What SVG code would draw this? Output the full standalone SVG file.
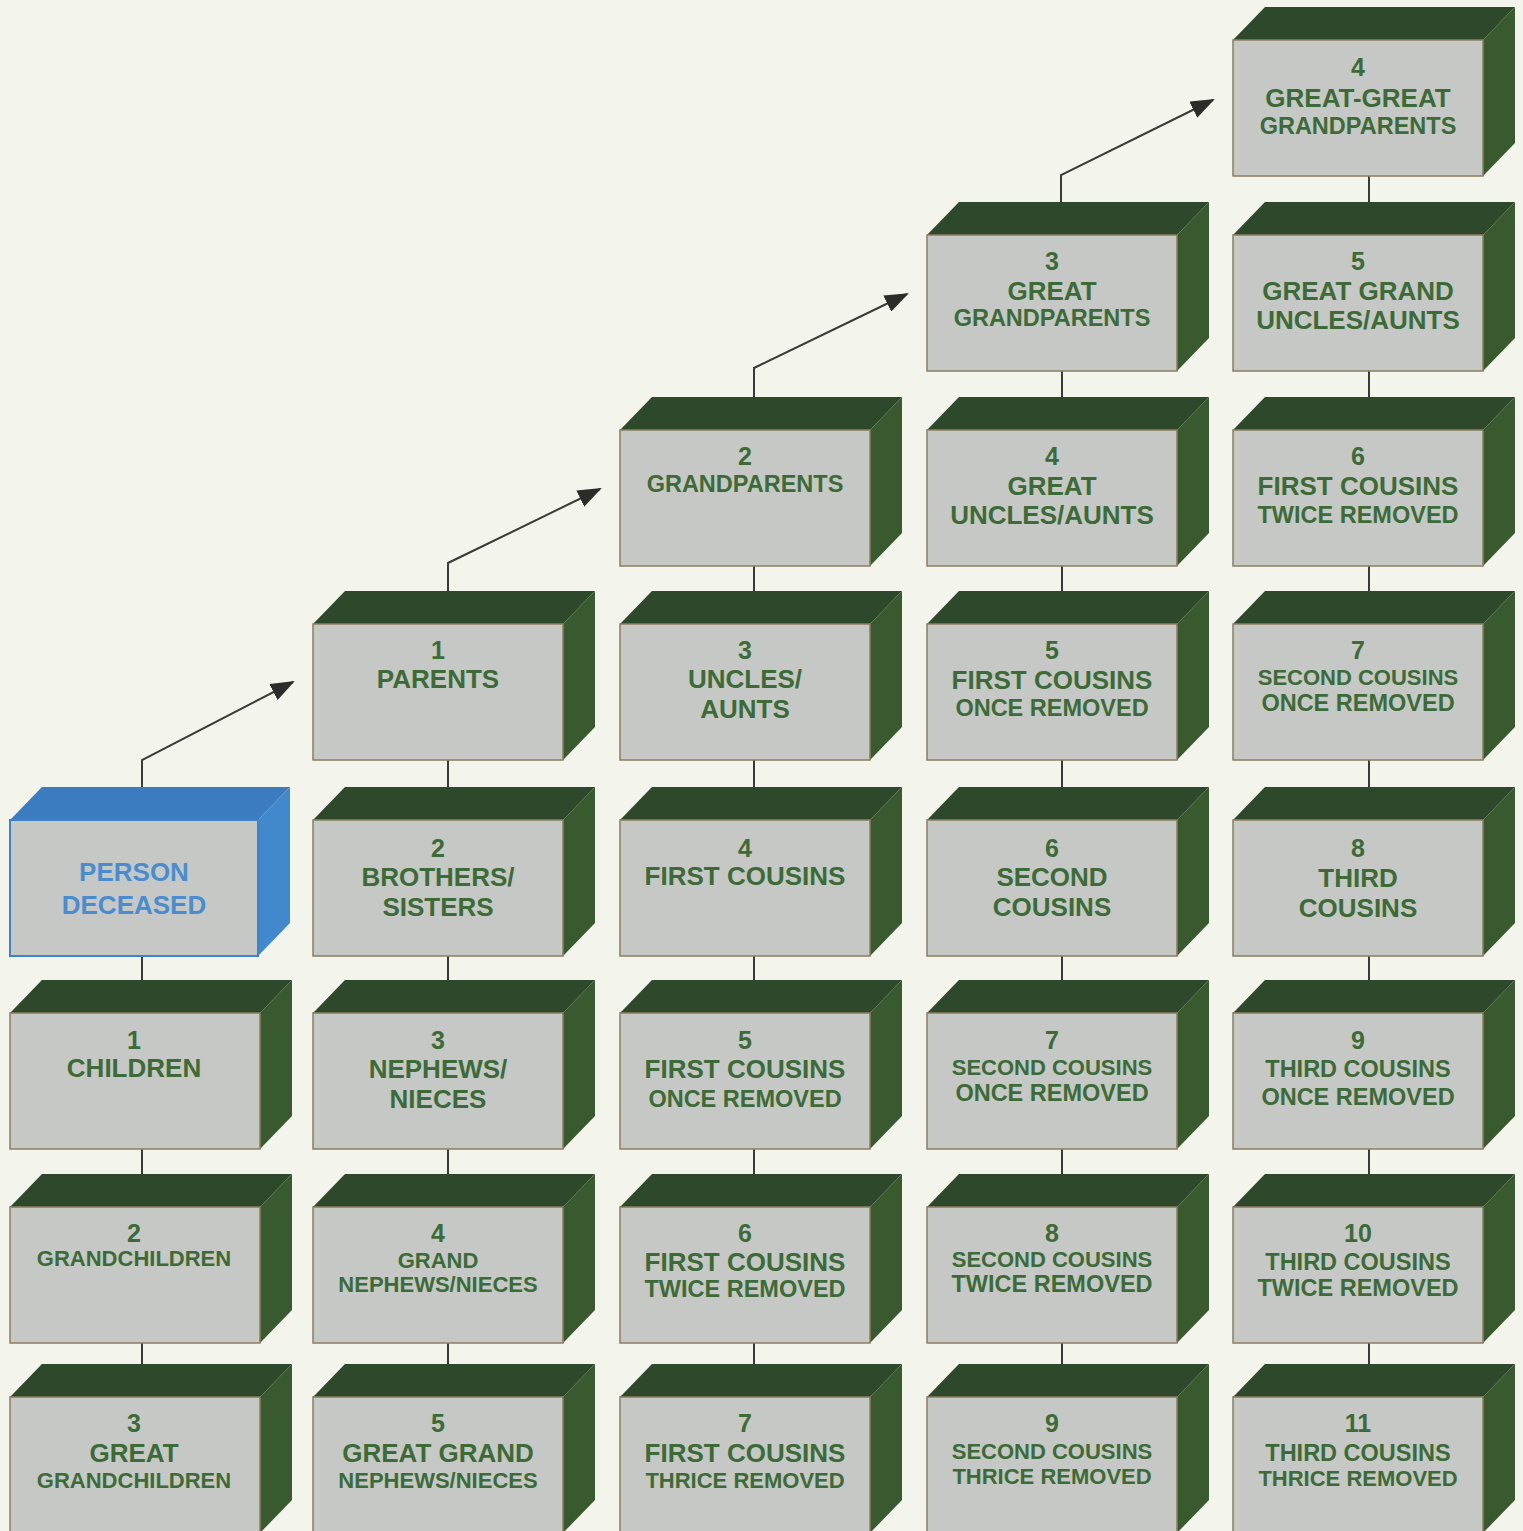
<svg xmlns="http://www.w3.org/2000/svg" width="1523" height="1531" viewBox="0 0 1523 1531">
<style>
.bg{fill:#f3f5ed}
.front{fill:#c5c8c5;stroke:#8c7d5f;stroke-width:1.5}
.top{fill:#2e482b}
.side{fill:#39592f}
.btop{fill:#3b7cc0}
.bside{fill:#4288cc}
.bfront{fill:#c5c8c5;stroke:#3f82c6;stroke-width:2}
text{font-family:"Liberation Sans",Arial,sans-serif;font-weight:bold;fill:#3d6b38;text-anchor:middle}
.n{font-size:25px}
.t1{font-size:26px}
.t2{font-size:23.5px}
.t3{font-size:22px}
.blue{fill:#4a8dcf;font-size:26px}
.conn{fill:none;stroke:#3a3a38;stroke-width:2}
</style>
<defs>
<marker id="arr" markerUnits="userSpaceOnUse" markerWidth="24" markerHeight="18" refX="22" refY="9" orient="auto">
<path d="M0,0 L24,9 L0,18 z" fill="#2c2c2a"/>
</marker>
<g id="box">
<polygon class="top" points="0,0 32,-33 282,-33 250,0"/>
<polygon class="side" points="250,0 282,-33 282,103 250,136"/>
<rect class="front" x="0" y="0" width="250" height="136"/>
</g>
</defs>
<rect class="bg" x="0" y="0" width="1523" height="1531"/>

<g id="connectors">
<polyline class="conn" points="142,787 142,760 293,682" marker-end="url(#arr)"/>
<polyline class="conn" points="448,591 448,563 600,489" marker-end="url(#arr)"/>
<polyline class="conn" points="754,397 754,368 907,294" marker-end="url(#arr)"/>
<polyline class="conn" points="1061,202 1061,175 1213,100" marker-end="url(#arr)"/>
<line class="conn" x1="142" y1="956" x2="142" y2="980"/>
<line class="conn" x1="142" y1="1149" x2="142" y2="1174"/>
<line class="conn" x1="142" y1="1343" x2="142" y2="1364"/>
<line class="conn" x1="448" y1="760" x2="448" y2="787"/>
<line class="conn" x1="448" y1="956" x2="448" y2="980"/>
<line class="conn" x1="448" y1="1149" x2="448" y2="1174"/>
<line class="conn" x1="448" y1="1343" x2="448" y2="1364"/>
<line class="conn" x1="754" y1="566" x2="754" y2="591"/>
<line class="conn" x1="754" y1="760" x2="754" y2="787"/>
<line class="conn" x1="754" y1="956" x2="754" y2="980"/>
<line class="conn" x1="754" y1="1149" x2="754" y2="1174"/>
<line class="conn" x1="754" y1="1343" x2="754" y2="1364"/>
<line class="conn" x1="1062" y1="371" x2="1062" y2="397"/>
<line class="conn" x1="1062" y1="566" x2="1062" y2="591"/>
<line class="conn" x1="1062" y1="760" x2="1062" y2="787"/>
<line class="conn" x1="1062" y1="956" x2="1062" y2="980"/>
<line class="conn" x1="1062" y1="1149" x2="1062" y2="1174"/>
<line class="conn" x1="1062" y1="1343" x2="1062" y2="1364"/>
<line class="conn" x1="1369" y1="176" x2="1369" y2="202"/>
<line class="conn" x1="1369" y1="371" x2="1369" y2="397"/>
<line class="conn" x1="1369" y1="566" x2="1369" y2="591"/>
<line class="conn" x1="1369" y1="760" x2="1369" y2="787"/>
<line class="conn" x1="1369" y1="956" x2="1369" y2="980"/>
<line class="conn" x1="1369" y1="1149" x2="1369" y2="1174"/>
<line class="conn" x1="1369" y1="1343" x2="1369" y2="1364"/>
</g>

<g id="c4r0"><use href="#box" x="1233" y="40"/>
<text class="n" x="1358" y="76">4</text><text class="t1" x="1358" y="107">GREAT-GREAT</text><text class="t2" x="1358" y="134">GRANDPARENTS</text></g>
<g id="c4r1"><use href="#box" x="1233" y="235"/>
<text class="n" x="1358" y="270">5</text><text class="t1" x="1358" y="300">GREAT GRAND</text><text class="t1" x="1358" y="329">UNCLES/AUNTS</text></g>
<g id="c4r2"><use href="#box" x="1233" y="430"/>
<text class="n" x="1358" y="465">6</text><text class="t1" x="1358" y="495">FIRST COUSINS</text><text class="t2" x="1358" y="523">TWICE REMOVED</text></g>
<g id="c4r3"><use href="#box" x="1233" y="624"/>
<text class="n" x="1358" y="659">7</text><text class="t3" x="1358" y="685">SECOND COUSINS</text><text class="t2" x="1358" y="711">ONCE REMOVED</text></g>
<g id="c4r4"><use href="#box" x="1233" y="820"/>
<text class="n" x="1358" y="857">8</text><text class="t1" x="1358" y="887">THIRD</text><text class="t1" x="1358" y="917">COUSINS</text></g>
<g id="c4r5"><use href="#box" x="1233" y="1013"/>
<text class="n" x="1358" y="1049">9</text><text class="t2" x="1358" y="1077">THIRD COUSINS</text><text class="t2" x="1358" y="1105">ONCE REMOVED</text></g>
<g id="c4r6"><use href="#box" x="1233" y="1207"/>
<text class="n" x="1358" y="1242">10</text><text class="t2" x="1358" y="1270">THIRD COUSINS</text><text class="t2" x="1358" y="1296">TWICE REMOVED</text></g>
<g id="c4r7"><use href="#box" x="1233" y="1397"/>
<text class="n" x="1358" y="1432">11</text><text class="t2" x="1358" y="1461">THIRD COUSINS</text><text class="t3" x="1358" y="1486">THRICE REMOVED</text></g>

<g id="c3r1"><use href="#box" x="927" y="235"/>
<text class="n" x="1052" y="270">3</text><text class="t1" x="1052" y="300">GREAT</text><text class="t2" x="1052" y="326">GRANDPARENTS</text></g>
<g id="c3r2"><use href="#box" x="927" y="430"/>
<text class="n" x="1052" y="465">4</text><text class="t1" x="1052" y="495">GREAT</text><text class="t1" x="1052" y="524">UNCLES/AUNTS</text></g>
<g id="c3r3"><use href="#box" x="927" y="624"/>
<text class="n" x="1052" y="659">5</text><text class="t1" x="1052" y="689">FIRST COUSINS</text><text class="t2" x="1052" y="716">ONCE REMOVED</text></g>
<g id="c3r4"><use href="#box" x="927" y="820"/>
<text class="n" x="1052" y="857">6</text><text class="t1" x="1052" y="886">SECOND</text><text class="t1" x="1052" y="916">COUSINS</text></g>
<g id="c3r5"><use href="#box" x="927" y="1013"/>
<text class="n" x="1052" y="1049">7</text><text class="t3" x="1052" y="1075">SECOND COUSINS</text><text class="t2" x="1052" y="1101">ONCE REMOVED</text></g>
<g id="c3r6"><use href="#box" x="927" y="1207"/>
<text class="n" x="1052" y="1242">8</text><text class="t3" x="1052" y="1267">SECOND COUSINS</text><text class="t2" x="1052" y="1292">TWICE REMOVED</text></g>
<g id="c3r7"><use href="#box" x="927" y="1397"/>
<text class="n" x="1052" y="1432">9</text><text class="t3" x="1052" y="1459">SECOND COUSINS</text><text class="t3" x="1052" y="1484">THRICE REMOVED</text></g>

<g id="c2r2"><use href="#box" x="620" y="430"/>
<text class="n" x="745" y="465">2</text><text class="t2" x="745" y="492">GRANDPARENTS</text></g>
<g id="c2r3"><use href="#box" x="620" y="624"/>
<text class="n" x="745" y="659">3</text><text class="t1" x="745" y="688">UNCLES/</text><text class="t1" x="745" y="718">AUNTS</text></g>
<g id="c2r4"><use href="#box" x="620" y="820"/>
<text class="n" x="745" y="857">4</text><text class="t1" x="745" y="885">FIRST COUSINS</text></g>
<g id="c2r5"><use href="#box" x="620" y="1013"/>
<text class="n" x="745" y="1049">5</text><text class="t1" x="745" y="1078">FIRST COUSINS</text><text class="t2" x="745" y="1107">ONCE REMOVED</text></g>
<g id="c2r6"><use href="#box" x="620" y="1207"/>
<text class="n" x="745" y="1242">6</text><text class="t1" x="745" y="1271">FIRST COUSINS</text><text class="t2" x="745" y="1297">TWICE REMOVED</text></g>
<g id="c2r7"><use href="#box" x="620" y="1397"/>
<text class="n" x="745" y="1432">7</text><text class="t1" x="745" y="1462">FIRST COUSINS</text><text class="t3" x="745" y="1488">THRICE REMOVED</text></g>

<g id="c1r3"><use href="#box" x="313" y="624"/>
<text class="n" x="438" y="659">1</text><text class="t1" x="438" y="688">PARENTS</text></g>
<g id="c1r4"><use href="#box" x="313" y="820"/>
<text class="n" x="438" y="857">2</text><text class="t1" x="438" y="886">BROTHERS/</text><text class="t1" x="438" y="916">SISTERS</text></g>
<g id="c1r5"><use href="#box" x="313" y="1013"/>
<text class="n" x="438" y="1049">3</text><text class="t1" x="438" y="1078">NEPHEWS/</text><text class="t1" x="438" y="1108">NIECES</text></g>
<g id="c1r6"><use href="#box" x="313" y="1207"/>
<text class="n" x="438" y="1242">4</text><text class="t3" x="438" y="1268">GRAND</text><text class="t3" x="438" y="1292">NEPHEWS/NIECES</text></g>
<g id="c1r7"><use href="#box" x="313" y="1397"/>
<text class="n" x="438" y="1432">5</text><text class="t1" x="438" y="1462">GREAT GRAND</text><text class="t3" x="438" y="1488">NEPHEWS/NIECES</text></g>

<g id="person-deceased">
<polygon class="btop" points="10,820 42,787 290,787 258,820"/>
<polygon class="bside" points="258,820 290,787 290,923 258,956"/>
<rect class="bfront" x="10" y="820" width="248" height="136"/>
<text class="blue" x="134" y="881">PERSON</text><text class="blue" x="134" y="914">DECEASED</text></g>
<g id="c0r5"><use href="#box" x="10" y="1013"/>
<text class="n" x="134" y="1049">1</text><text class="t1" x="134" y="1077">CHILDREN</text></g>
<g id="c0r6"><use href="#box" x="10" y="1207"/>
<text class="n" x="134" y="1242">2</text><text class="t3" x="134" y="1266">GRANDCHILDREN</text></g>
<g id="c0r7"><use href="#box" x="10" y="1397"/>
<text class="n" x="134" y="1432">3</text><text class="t1" x="134" y="1462">GREAT</text><text class="t3" x="134" y="1488">GRANDCHILDREN</text></g>
</svg>
